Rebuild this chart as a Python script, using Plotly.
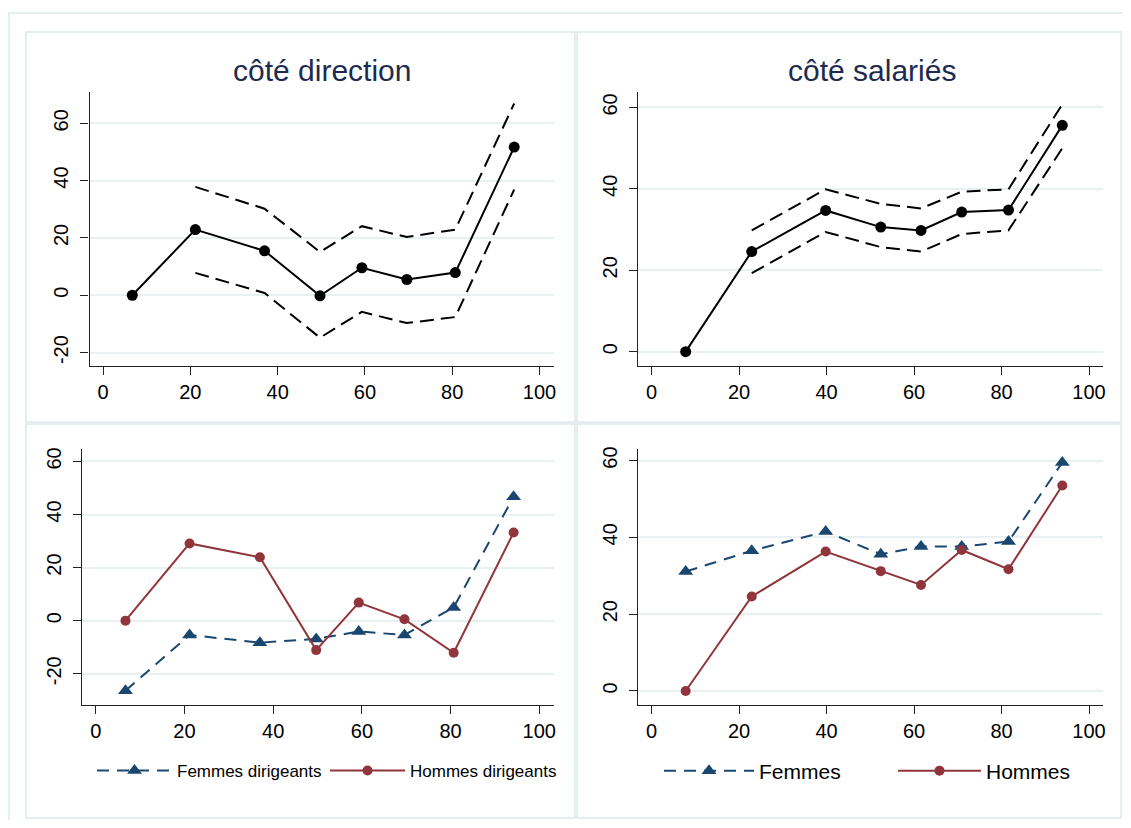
import plotly.graph_objects as go

# ---------------- data ----------------
pct_dir = [6.7, 21.15, 37.0, 49.7, 59.3, 69.6, 80.7, 94.2]
coef_dir = [0, 22.9, 15.5, -0.2, 9.6, 5.5, 7.9, 51.7]
hi_dir = [37.8, 30.2, 15.1, 24.1, 20.3, 22.9, 66.9]
lo_dir = [7.8, 0.8, -14.8, -5.8, -9.7, -7.6, 36.9]

pct_sal = [7.8, 22.9, 39.8, 52.4, 61.6, 70.9, 81.6, 93.9]
coef_sal = [0, 24.6, 34.7, 30.6, 29.8, 34.3, 34.8, 55.6]
hi_sal = [29.8, 39.9, 36.3, 35.2, 39.3, 39.9, 60.8]
lo_sal = [19.3, 29.4, 25.7, 24.6, 28.9, 29.8, 50.0]

femmes_dir = [-26.4, -5.4, -8.3, -6.9, -4.1, -5.4, 5.0, 46.7]
hommes_dir = [0, 29.1, 23.9, -11.1, 6.8, 0.5, -12.1, 33.2]

femmes_sal = [31.1, 36.5, 41.5, 35.6, 37.6, 37.6, 38.9, 59.5]
hommes_sal = [0, 24.6, 36.3, 31.2, 27.6, 36.7, 31.7, 53.5]

titles = ["côté direction", "côté salariés"]
x_ticks = [0, 20, 40, 60, 80, 100]
x_tick_labels = ["0", "20", "40", "60", "80", "100"]
y_ticks_dir = [-20, 0, 20, 40, 60]
y_tick_labels_dir = ["-20", "0", "20", "40", "60"]
y_ticks_sal = [0, 20, 40, 60]
y_tick_labels_sal = ["0", "20", "40", "60"]

# ---------------- style ----------------
OFF = 8                      # default page margin of the html body
W, H = 1131 - 2 * OFF, 828 - 2 * OFF
FONT = "Liberation Sans, Arial, sans-serif"
NAVY = "#1a476f"
MAROON = "#90353b"
GRID = "#e8f0f2"
FRAME = "#e4eef0"
DASH = "14px,7px"

fig = go.Figure()

def px_x(p):
    return (p - OFF) / W

def px_y(p):
    return 1 - (p - OFF) / H

# panel 1: direction coefficients with CI
fig.add_trace(go.Scatter(x=pct_dir, y=coef_dir, mode="lines+markers",
                         line=dict(color="black", width=2),
                         marker=dict(color="black", size=11, symbol="circle"),
                         xaxis="x", yaxis="y", showlegend=False))
fig.add_trace(go.Scatter(x=pct_dir[1:], y=hi_dir, mode="lines",
                         line=dict(color="black", width=2, dash=DASH),
                         xaxis="x", yaxis="y", showlegend=False))
fig.add_trace(go.Scatter(x=pct_dir[1:], y=lo_dir, mode="lines",
                         line=dict(color="black", width=2, dash=DASH),
                         xaxis="x", yaxis="y", showlegend=False))

# panel 2: salaries coefficients with CI
fig.add_trace(go.Scatter(x=pct_sal, y=coef_sal, mode="lines+markers",
                         line=dict(color="black", width=2),
                         marker=dict(color="black", size=11, symbol="circle"),
                         xaxis="x2", yaxis="y2", showlegend=False))
fig.add_trace(go.Scatter(x=pct_sal[1:], y=hi_sal, mode="lines",
                         line=dict(color="black", width=2, dash=DASH),
                         xaxis="x2", yaxis="y2", showlegend=False))
fig.add_trace(go.Scatter(x=pct_sal[1:], y=lo_sal, mode="lines",
                         line=dict(color="black", width=2, dash=DASH),
                         xaxis="x2", yaxis="y2", showlegend=False))

# panel 3: by gender of managers
fig.add_trace(go.Scatter(x=pct_dir, y=femmes_dir, mode="lines+markers",
                         name="Femmes dirigeants",
                         line=dict(color=NAVY, width=2, dash="12px,8px"),
                         marker=dict(color=NAVY, size=13, symbol="triangle-up"),
                         xaxis="x3", yaxis="y3", legend="legend"))
fig.add_trace(go.Scatter(x=pct_dir, y=hommes_dir, mode="lines+markers",
                         name="Hommes dirigeants",
                         line=dict(color=MAROON, width=2),
                         marker=dict(color=MAROON, size=10, symbol="circle"),
                         xaxis="x3", yaxis="y3", legend="legend2"))

# panel 4: by gender of employees
fig.add_trace(go.Scatter(x=pct_sal, y=femmes_sal, mode="lines+markers",
                         name="Femmes",
                         line=dict(color=NAVY, width=2, dash="12px,8px"),
                         marker=dict(color=NAVY, size=13, symbol="triangle-up"),
                         xaxis="x4", yaxis="y4", legend="legend3"))
fig.add_trace(go.Scatter(x=pct_sal, y=hommes_sal, mode="lines+markers",
                         name="Hommes",
                         line=dict(color=MAROON, width=2),
                         marker=dict(color=MAROON, size=10, symbol="circle"),
                         xaxis="x4", yaxis="y4", legend="legend4"))

axis_common = dict(showline=True, linecolor="#222", linewidth=1.3,
                   ticks="outside", ticklen=8, tickwidth=1.3, tickcolor="#222",
                   tickfont=dict(family=FONT, size=20, color="black"),
                   zeroline=False, fixedrange=True, automargin=False)

def xaxis(domain, anchor):
    return dict(axis_common, domain=domain, anchor=anchor, range=[-3.1, 103.2],
                tickmode="array", tickvals=x_ticks, ticktext=x_tick_labels,
                showgrid=False, ticklabelstandoff=0)

def yaxis(domain, anchor, rng, ticks, labels):
    return dict(axis_common, domain=domain, anchor=anchor, range=rng,
                tickmode="array", tickvals=ticks, ticktext=labels, showgrid=True,
                gridcolor=GRID, gridwidth=2, tickangle=-90,
                ticklabelstandoff=4)

top_dom = [px_y(365.5), px_y(92)]
bot_dom = [px_y(705), px_y(449)]
left_dom = [px_x(89.5), px_x(553.5)]
left_dom3 = [px_x(82), px_x(553.5)]
right_dom = [px_x(638), px_x(1103)]

def legend(x_px, iw, size):
    return dict(orientation="h", x=px_x(x_px), y=px_y(771), xanchor="left",
                yanchor="middle", itemwidth=iw,
                font=dict(family=FONT, size=size, color="black"),
                bgcolor="rgba(0,0,0,0)", borderwidth=0)

fig.update_layout(
    width=W, height=H,
    margin=dict(l=0, r=0, t=0, b=0, autoexpand=False),
    paper_bgcolor="white", plot_bgcolor="white",
    font=dict(family=FONT, color="black"),
    xaxis=xaxis(left_dom, "y"),
    yaxis=yaxis(top_dom, "x", [-24.5, 70.9], y_ticks_dir, y_tick_labels_dir),
    xaxis2=xaxis(right_dom, "y2"),
    yaxis2=yaxis(top_dom, "x2", [-3.4, 63.8], y_ticks_sal, y_tick_labels_sal),
    xaxis3=xaxis(left_dom3, "y3"),
    yaxis3=yaxis(bot_dom, "x3", [-31.8, 64.7], y_ticks_dir, y_tick_labels_dir),
    xaxis4=xaxis(right_dom, "y4"),
    yaxis4=yaxis(bot_dom, "x4", [-3.65, 63.0], y_ticks_sal, y_tick_labels_sal),
    legend=legend(92, 75, 17),
    legend2=legend(325, 75, 17),
    legend3=legend(659, 90, 21),
    legend4=legend(893, 83, 21),
    showlegend=True,
)

# titles
fig.add_annotation(text=titles[0], x=px_x(321.5), y=px_y(71), xref="paper", yref="paper",
                   showarrow=False, xanchor="center", yanchor="middle",
                   font=dict(family=FONT, size=30, color="#1c2b4f"))
fig.add_annotation(text=titles[1], x=px_x(872), y=px_y(71), xref="paper", yref="paper",
                   showarrow=False, xanchor="center", yanchor="middle",
                   font=dict(family=FONT, size=30, color="#1c2b4f"))

# frames of each sub-graph
frames = [(26, 32, 575, 422), (577, 32, 1121, 422),
          (26, 424, 575, 818), (577, 424, 1121, 818)]
for (x0, y0, x1, y1) in frames:
    fig.add_shape(type="rect", xref="paper", yref="paper",
                  x0=px_x(x0), x1=px_x(x1), y0=px_y(y1), y1=px_y(y0),
                  line=dict(color=FRAME, width=2), layer="below")
# outer frame (top and left edges visible)
fig.add_shape(type="path", xref="paper", yref="paper",
              path=f"M {px_x(9)} {px_y(828)} L {px_x(9)} {px_y(13)} L {px_x(1122.5)} {px_y(13)}",
              line=dict(color=FRAME, width=2), layer="below")

fig.write_html("out.html")
